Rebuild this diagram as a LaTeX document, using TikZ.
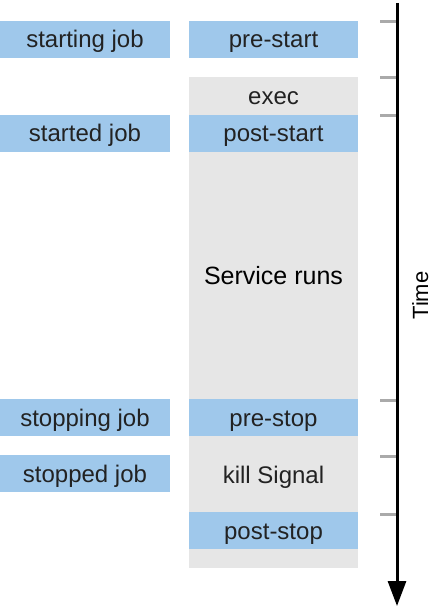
\documentclass[tikz,border=0pt]{standalone}
\usepackage{fontspec}
\setmainfont{Liberation Sans}
\usetikzlibrary{arrows.meta}
\definecolor{jobblue}{HTML}{9FC8EB}
\definecolor{bggrey}{HTML}{E6E6E6}
\definecolor{tickgrey}{HTML}{AAAAAA}
\definecolor{txt}{HTML}{222222}
\tikzset{
  lbl/.style={font=\fontsize{24bp}{28bp}\selectfont, text=txt, inner sep=0pt, text height=17bp, text depth=0bp},
  leftbox/.style={lbl, fill=jobblue, minimum width=170bp, minimum height=37bp},
  midbox/.style={lbl, fill=jobblue, minimum width=169bp, minimum height=37bp},
  tickmark/.style={draw=tickgrey, line width=3bp},
  axis/.style={draw=black, line width=3bp, -{Triangle[length=25bp,width=18bp]}},
}
\begin{document}
\begin{tikzpicture}[x=1bp,y=-1bp]
\useasboundingbox (0,0) rectangle (436,608);
% grey background of the running phase
\node[fill=bggrey, inner sep=0pt, minimum width=169bp, minimum height=491bp] (bg) at (273.5,322.5) {};
% left column
\node[leftbox] (startingjob) at (85,39.5) {starting job};
\node[leftbox] (startedjob) at (85,133.5) {started job};
\node[leftbox] (stoppingjob) at (85,417.5) {stopping job};
\node[leftbox] (stoppedjob) at (85,473.5) {stopped job};
% middle column
\node[midbox] (prestart) at (273.5,39.5) {pre-start};
\node[lbl] (exec) at (273.5,96.5) {exec};
\node[midbox] (poststart) at (273.5,133.5) {post-start};
\node[lbl, text=black, font=\fontsize{25bp}{29bp}\selectfont] (service) at (273.5,276) {Service runs};
\node[midbox] (prestop) at (273.5,417.5) {pre-stop};
\node[lbl] (kill) at (273.5,475) {kill Signal};
\node[midbox] (poststop) at (273.5,530.5) {post-stop};
% time axis
\coordinate (ttop) at (397,3);
\coordinate (tbot) at (397,606);
\draw[axis] (ttop) -- (tbot);
\node[lbl, text=black, font=\fontsize{22bp}{26bp}\selectfont, text height=16bp, rotate=90] (time) at (420,295.5) {Time};
% ticks
\foreach \n/\y in {t1/22, t2/78, t3/116, t4/400, t5/456, t6/514} {
  \coordinate (\n a) at (380,\y);
  \coordinate (\n b) at (396,\y);
  \draw[tickmark] (\n a) -- (\n b);
}
\end{tikzpicture}
\end{document}
